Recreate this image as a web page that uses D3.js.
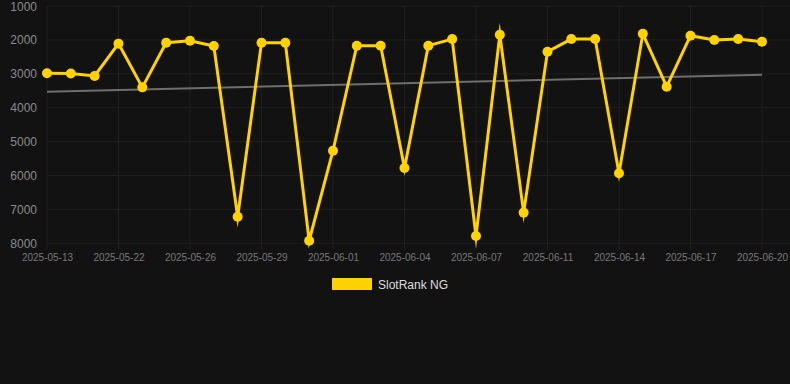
<!DOCTYPE html>
<html>
<head>
<meta charset="utf-8">
<script src="https://cdn.jsdelivr.net/npm/d3@7"></script>
<style>
  html, body { margin: 0; padding: 0; background: #121212; }
  svg { display: block; font-family: "Liberation Sans", Arial, sans-serif; }
</style>
</head>
<body>
<svg id="chart"></svg>
<script>
// dates on the category axis (every 3rd one is labelled)
let dates = ["2025-05-13", "2025-05-17", "2025-05-20", "2025-05-22", "2025-05-23", "2025-05-25",
    "2025-05-26", "2025-05-27", "2025-05-28", "2025-05-29", "2025-05-30", "2025-05-31",
    "2025-06-01", "2025-06-02", "2025-06-03", "2025-06-04", "2025-06-05", "2025-06-06",
    "2025-06-07", "2025-06-09", "2025-06-10", "2025-06-11", "2025-06-12", "2025-06-13",
    "2025-06-14", "2025-06-15", "2025-06-16", "2025-06-17", "2025-06-18", "2025-06-19",
    "2025-06-20"];

let rank = [2985, 2990, 3065, 2110, 3400, 2085, 2025, 2180, 7215, 2085, 2085, 7925,
    5270, 2170, 2170, 5780, 2170, 1975, 7785, 1850, 7095, 2350, 1975, 1975,
    5935, 1820, 3380, 1875, 2005, 1975, 2055];

// trend line, first and last value
let trend = [3530, 3025];

let yTicks = [1000, 2000, 3000, 4000, 5000, 6000, 7000, 8000];
let seriesName = "SlotRank NG";

let width = 790;
let height = 384;
let paddingLeft = 47;
let paddingRight = 28;
let paddingTop = 6;
let plotBottom = 243.3;

let svg = d3.select("#chart")
    .attr("width", width)
    .attr("height", height);

svg.append("rect")
    .attr("width", width)
    .attr("height", height)
    .attr("fill", "#121212");

let xScale = d3.scalePoint()
    .domain(dates)
    .range([paddingLeft, width - paddingRight]);

let yScale = d3.scaleLinear()
    .domain([1000, 8000])
    .range([paddingTop, plotBottom]);

let labelled = dates.filter((d, i) => i % 3 == 0);

// grid
svg.append("g")
    .selectAll("line")
    .data(yTicks)
    .join("line")
    .attr("x1", paddingLeft)
    .attr("x2", width)
    .attr("y1", d => yScale(d))
    .attr("y2", d => yScale(d))
    .attr("stroke", "#1f1f1f")
    .attr("stroke-width", 1);

svg.append("g")
    .selectAll("line")
    .data(labelled)
    .join("line")
    .attr("x1", d => xScale(d))
    .attr("x2", d => xScale(d))
    .attr("y1", paddingTop)
    .attr("y2", plotBottom + 6)
    .attr("stroke", "#1f1f1f")
    .attr("stroke-width", 1);

// y axis labels
let yAxis = d3.axisLeft(yScale)
    .tickValues(yTicks)
    .tickSize(0)
    .tickPadding(10)
    .tickFormat(d3.format("d"));

svg.append("g")
    .attr("transform", "translate(" + paddingLeft + ",0)")
    .call(yAxis)
    .call(g => g.select(".domain").remove())
    .selectAll("text")
    .attr("font-size", 12)
    .attr("font-family", "Liberation Sans, Arial, sans-serif")
    .attr("fill", "#8a8a8a")
    .attr("dy", "0.34em");

// x axis labels
let xAxis = d3.axisBottom(xScale)
    .tickValues(labelled)
    .tickSize(0)
    .tickPadding(11);

svg.append("g")
    .attr("transform", "translate(0," + plotBottom + ")")
    .call(xAxis)
    .call(g => g.select(".domain").remove())
    .selectAll("text")
    .attr("font-size", 10)
    .attr("font-family", "Liberation Sans, Arial, sans-serif")
    .attr("fill", "#777777");

// trend
svg.append("path")
    .datum(trend)
    .attr("fill", "none")
    .attr("stroke", "#6e6e6e")
    .attr("stroke-width", 2)
    .attr("d", d3.line()
        .x((d, i) => xScale(dates[i == 0 ? 0 : dates.length - 1]))
        .y(d => yScale(d)));

// series
let gold = "#ffd200";

svg.append("path")
    .datum(rank)
    .attr("fill", "none")
    .attr("stroke", gold)
    .attr("stroke-width", 3)
    .attr("stroke-linejoin", "miter")
    .attr("stroke-miterlimit", 10)
    .attr("d", d3.line()
        .x((d, i) => xScale(dates[i]))
        .y(d => yScale(d)));

svg.append("g")
    .selectAll("circle")
    .data(rank)
    .join("circle")
    .attr("cx", (d, i) => xScale(dates[i]))
    .attr("cy", d => yScale(d))
    .attr("r", 5)
    .attr("fill", gold);

// legend
let legend = svg.append("g");

legend.append("rect")
    .attr("x", 332)
    .attr("y", 278)
    .attr("width", 40)
    .attr("height", 12)
    .attr("fill", gold);

legend.append("text")
    .attr("x", 378)
    .attr("y", 288.5)
    .attr("font-size", 12)
    .attr("fill", "#dddddd")
    .text(seriesName);
</script>
</body>
</html>
